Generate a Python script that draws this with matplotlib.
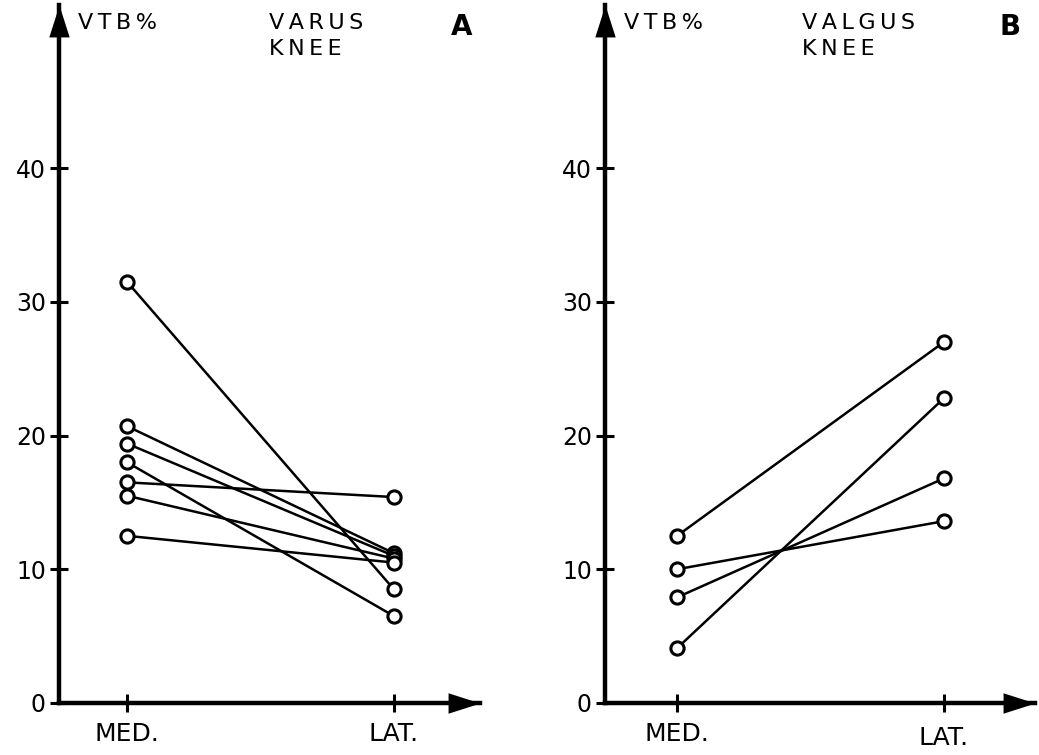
import matplotlib.pyplot as plt

plt.rcParams["font.family"] = ["DejaVu Sans"]

# panel A: varus knee, pairs (MED, LAT)
varus_med = [31.5, 20.7, 19.4, 18.0, 16.5, 15.5, 12.5]
varus_lat = [8.5, 11.2, 11.0, 6.5, 15.4, 10.8, 10.5]

# panel B: valgus knee
valgus_med = [12.5, 10.0, 7.9, 4.1]
valgus_lat = [27.0, 13.6, 16.8, 22.8]

xlabels = ["MED.", "LAT."]
yticks = [0, 10, 20, 30, 40]

fig = plt.figure(figsize=(10.39, 7.55), dpi=100)
ts = "\u2009"  # letter spacing like the typeset original

# long narrow arrow heads, tip at the marker's origin
up_head = [(0, 0), (-0.32, -1), (0.32, -1), (0, 0)]
right_head = [(0, 0), (-1, 0.32), (-1, -0.32), (0, 0)]


def spaced(s):
    return "\n".join(ts.join(line) for line in s.split("\n"))


def panel(rect, xlim, med, lat, title, letter, tx, lx, latpad):
    ax = fig.add_axes(rect)
    for m, l in zip(med, lat):
        ax.plot([1, 2], [m, l], color="black", lw=1.8, marker="o", ms=9.5,
                mfc="white", mec="black", mew=2.2, zorder=3, clip_on=False)
    ax.set_xlim(*xlim)
    ax.set_ylim(0, 52.2)
    for s in ["top", "right"]:
        ax.spines[s].set_visible(False)
    for s in ["left", "bottom"]:
        ax.spines[s].set_linewidth(3.2)
    ax.set_yticks(yticks)
    ax.set_yticklabels([str(t) for t in yticks], fontsize=17)
    ax.set_xticks([1, 2])
    ax.set_xticklabels(xlabels, fontsize=18)
    ax.tick_params(axis="y", direction="inout", length=13, width=2.2, pad=3)
    ax.tick_params(axis="x", direction="inout", length=13, width=2.2, pad=7)
    ax.xaxis.get_major_ticks()[1].set_pad(latpad)
    # arrow heads on both axes
    ax.plot(0, 1, marker=up_head, ms=46, color="black", mew=0,
            transform=ax.transAxes, clip_on=False)
    ax.plot(1, 0, marker=right_head, ms=46, color="black", mew=0,
            transform=ax.transAxes, clip_on=False)
    ax.text(0.045, 0.9885, spaced("VTB%"), transform=ax.transAxes,
            fontsize=16, va="top", ha="left")
    ax.text(tx, 0.9885, spaced(title), transform=ax.transAxes, fontsize=16,
            va="top", ha="left", linespacing=1.4)
    ax.text(lx, 0.9885, letter, transform=ax.transAxes, fontsize=20,
            fontweight="bold", va="top", ha="right")
    return ax


panel([0.0568, 0.0689, 0.405, 0.9245], (0.745, 2.322), varus_med, varus_lat,
      "VARUS\nKNEE", "A", 0.50, 0.983, 7)
panel([0.5823, 0.0689, 0.4139, 0.9245], (0.730, 2.341), valgus_med, valgus_lat,
      "VALGUS\nKNEE", "B", 0.458, 0.967, 10)

fig.savefig("out.png", dpi=100)
